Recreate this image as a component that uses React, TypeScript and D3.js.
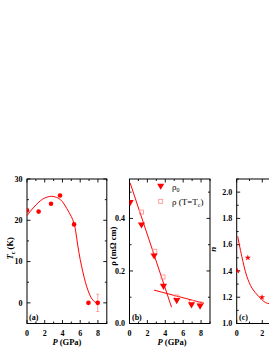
import React from "react";
import * as d3 from "d3";

// Panel (a): Tc vs P
const P_TC = [0, 1.31, 2.71, 3.73, 5.31, 6.93, 7.98];
const TC = [22.4, 22.1, 24.0, 26.0, 19.0, 0, 0];
const TC_ERR = [0, 0, 0, 0, 0, 0, 2.1];
const FIT_A_P = [0, 0.5, 1, 1.5, 2, 2.75, 3.5, 4, 4.5, 5, 5.3, 5.5, 5.72, 6.0, 6.3, 6.6, 6.9, 7.2, 7.5, 7.8, 8.0];
const FIT_A_TC = [21.1, 22.5, 23.7, 24.7, 25.4, 25.8, 25.4, 24.5, 22.8, 20.9, 19.3, 17.2, 14.0, 10.5, 7.5, 4.9, 2.9, 1.4, 0.5, 0.05, 0.1];

// Panel (b): rho vs P
const P_RHO0 = [0.07, 1.34, 2.75, 3.8, 5.28, 6.93, 7.89];
const RHO0 = [0.462, 0.377, 0.259, 0.143, 0.089, 0.073, 0.068];
const P_RHOTC = [1.34, 2.83, 3.75, 5.28, 6.93, 7.89];
const RHOTC = [0.424, 0.275, 0.177, 0.101, 0.08, 0.075];
const LINE1_P = [0.07, 4.7];
const LINE1_RHO = [0.535, 0.062];
const LINE2_P = [2.75, 8.34];
const LINE2_RHO = [0.127, 0.077];

// Panel (c): n vs P
const P_N = [0.05, 0.87, 1.98];
const N_VAL = [1.40, 1.50, 1.20];
const FIT_C_P = [0.08, 0.4, 0.79, 1.19, 1.71, 2.24, 2.58, 3.2, 4.0, 5.0];
const FIT_C_N = [1.663, 1.51, 1.36, 1.27, 1.207, 1.16, 1.15, 1.14, 1.14, 1.14];

const X_LABELS = ["0", "2", "4", "6", "8"];

const FONT = "'Liberation Serif', serif";
const RED = "#ff0000";
const PINK = "#ff8a8a";
const TOP = 179;
const BOTTOM = 323.5;
const VIEW_W = 269;

type AxisSpec = {
  left: number;
  right: number;
  xDomain: [number, number];
  yDomain: [number, number];
  yMajor: number;
  yMinor: number;
  yFmt: (v: number) => string;
};

function Frame({ s, x, y }: { s: AxisSpec; x: d3.ScaleLinear<number, number>; y: d3.ScaleLinear<number, number> }) {
  const xMinor = d3.range(Math.ceil(s.xDomain[0]), s.xDomain[1] + 1e-9, 1);
  const yTicks = d3.range(Math.ceil(s.yDomain[0] / s.yMinor - 1e-9) * s.yMinor, s.yDomain[1] + 1e-9, s.yMinor);
  const isMajorY = (v: number) => Math.abs(v / s.yMajor - Math.round(v / s.yMajor)) < 1e-6;
  const maj = 3.5;
  const min = 2;
  return (
    <g>
      <rect x={s.left} y={TOP} width={s.right - s.left} height={BOTTOM - TOP} fill="none" stroke="#000" strokeWidth={1} />
      {xMinor.map((v) => {
        const len = v % 2 === 0 ? maj : min;
        return (
          <g key={"x" + v}>
            <line x1={x(v)} x2={x(v)} y1={BOTTOM} y2={BOTTOM - len} stroke="#000" strokeWidth={0.9} />
            <line x1={x(v)} x2={x(v)} y1={TOP} y2={TOP + len} stroke="#000" strokeWidth={0.9} />
          </g>
        );
      })}
      {X_LABELS.filter((t) => x(+t) + 3 < VIEW_W).map((t) => (
        <text key={"xl" + t} x={x(+t)} y={336} textAnchor="middle" fontFamily={FONT} fontWeight="bold" fontSize={8}>
          {t}
        </text>
      ))}
      {yTicks.map((v) => {
        const len = isMajorY(v) ? maj : min;
        return (
          <g key={"y" + v.toFixed(3)}>
            <line x1={s.left} x2={s.left + len} y1={y(v)} y2={y(v)} stroke="#000" strokeWidth={0.9} />
            <line x1={s.right} x2={s.right - len} y1={y(v)} y2={y(v)} stroke="#000" strokeWidth={0.9} />
            {isMajorY(v) ? (
              <text x={s.left - 4.5} y={y(v) + 2.8} textAnchor="end" fontFamily={FONT} fontWeight="bold" fontSize={8}>
                {s.yFmt(v)}
              </text>
            ) : null}
          </g>
        );
      })}
    </g>
  );
}

const tri = d3.symbol().type(d3.symbolTriangle).size(22)() as string;
const star = d3.symbol().type(d3.symbolStar).size(12)() as string;

export default function App() {
  const A: AxisSpec = { left: 27, right: 106.8, xDomain: [0, 9], yDomain: [-5, 30], yMajor: 10, yMinor: 5, yFmt: (v) => String(Math.round(v)) };
  const B: AxisSpec = { left: 129.5, right: 210, xDomain: [0, 9], yDomain: [0, 0.55], yMajor: 0.2, yMinor: 0.1, yFmt: (v) => v.toFixed(1) };
  const C: AxisSpec = { left: 236.7, right: 317.3, xDomain: [0, 6.3], yDomain: [1.0, 2.1], yMajor: 0.2, yMinor: 0.1, yFmt: (v) => v.toFixed(1) };

  const xa = d3.scaleLinear().domain(A.xDomain).range([A.left, A.right]);
  const ya = d3.scaleLinear().domain(A.yDomain).range([BOTTOM, TOP]);
  const xb = d3.scaleLinear().domain(B.xDomain).range([B.left, B.right]);
  const yb = d3.scaleLinear().domain(B.yDomain).range([BOTTOM, TOP]);
  const xc = d3.scaleLinear().domain(C.xDomain).range([C.left, C.right]);
  const yc = d3.scaleLinear().domain(C.yDomain).range([BOTTOM, TOP]);

  const lineA = d3
    .line<number>()
    .x((_, i) => xa(FIT_A_P[i]))
    .y((d) => ya(d))
    .curve(d3.curveCatmullRom);
  const lineC = d3
    .line<number>()
    .x((_, i) => xc(FIT_C_P[i]))
    .y((d) => yc(d))
    .curve(d3.curveCatmullRom);
  const l1 = d3.line<number>().x((_, i) => xb(LINE1_P[i])).y((d) => yb(d));
  const l2 = d3.line<number>().x((_, i) => xb(LINE2_P[i])).y((d) => yb(d));

  return (
    <svg width={269} height={349} style={{ position: "absolute", left: 0, top: 0, background: "#fff" }}>
      <defs>
        <clipPath id="clipA">
          <rect x={A.left} y={TOP} width={A.right - A.left} height={BOTTOM - TOP} />
        </clipPath>
        <clipPath id="clipB">
          <rect x={B.left} y={TOP} width={B.right - B.left} height={BOTTOM - TOP} />
        </clipPath>
        <clipPath id="clipC">
          <rect x={C.left} y={TOP} width={C.right - C.left} height={BOTTOM - TOP} />
        </clipPath>
      </defs>

      {/* Panel (a) */}
      <Frame s={A} x={xa} y={ya} />
      <g clipPath="url(#clipA)">
        <path d={lineA(FIT_A_TC) || ""} fill="none" stroke={RED} strokeWidth={1} />
        {P_TC.map((p, i) => (
          <g key={"a" + i}>
            {TC_ERR[i] > 0 ? (
              <g stroke={PINK} strokeWidth={0.8}>
                <line x1={xa(p)} x2={xa(p)} y1={ya(TC[i] - TC_ERR[i])} y2={ya(TC[i] + TC_ERR[i])} />
                <line x1={xa(p) - 1.5} x2={xa(p) + 1.5} y1={ya(TC[i] - TC_ERR[i])} y2={ya(TC[i] - TC_ERR[i])} />
                <line x1={xa(p) - 1.5} x2={xa(p) + 1.5} y1={ya(TC[i] + TC_ERR[i])} y2={ya(TC[i] + TC_ERR[i])} />
              </g>
            ) : null}
            <circle cx={xa(p)} cy={ya(TC[i])} r={2.3} fill={RED} />
          </g>
        ))}
      </g>
      <text x={29} y={320} fontFamily={FONT} fontWeight="bold" fontSize={8}>(a)</text>
      <text transform={`translate(12.5,${(TOP + BOTTOM) / 2 - 3}) rotate(-90)`} textAnchor="middle" fontFamily={FONT} fontWeight="bold" fontSize={8.5}>
        <tspan fontStyle="italic">T</tspan>
        <tspan fontSize={6} dy={2}>c</tspan>
        <tspan dy={-2}> (K)</tspan>
      </text>
      <text x={(A.left + A.right) / 2} y={345} textAnchor="middle" fontFamily={FONT} fontWeight="bold" fontSize={8.5}>
        <tspan fontStyle="italic">P</tspan> (GPa)
      </text>

      {/* Panel (b) */}
      <Frame s={B} x={xb} y={yb} />
      <g clipPath="url(#clipB)">
        <path d={l1(LINE1_RHO) || ""} fill="none" stroke={RED} strokeWidth={1} />
        <path d={l2(LINE2_RHO) || ""} fill="none" stroke={RED} strokeWidth={1} />
        {P_RHOTC.map((p, i) => (
          <rect key={"s" + i} x={xb(p) - 2} y={yb(RHOTC[i]) - 2} width={4} height={4} fill="none" stroke={PINK} strokeWidth={0.8} />
        ))}
        {P_RHO0.map((p, i) => (
          <path key={"t" + i} d={tri} transform={`translate(${xb(p)},${yb(RHO0[i])}) rotate(180)`} fill={RED} />
        ))}
      </g>
      <path d={tri} transform="translate(160.7,185.7) rotate(180)" fill={RED} />
      <text x={172} y={189.5} fontFamily={FONT} fontSize={9}>
        ρ<tspan fontSize={6} dy={2}>0</tspan>
      </text>
      <rect x={158.7} y={199.3} width={4} height={4} fill="none" stroke={PINK} strokeWidth={0.8} />
      <text x={172} y={204.5} fontFamily={FONT} fontSize={9}>
        ρ (T=T<tspan fontSize={6} dy={2}>c</tspan>
        <tspan dy={-2}>)</tspan>
      </text>
      <text x={132} y={320} fontFamily={FONT} fontWeight="bold" fontSize={8}>(b)</text>
      <text transform={`translate(116,${(TOP + BOTTOM) / 2 - 5}) rotate(-90)`} textAnchor="middle" fontFamily={FONT} fontWeight="bold" fontSize={8.5}>
        ρ (mΩ cm)
      </text>
      <text x={172} y={345} textAnchor="middle" fontFamily={FONT} fontWeight="bold" fontSize={8.5}>
        <tspan fontStyle="italic">P</tspan> (GPa)
      </text>

      {/* Panel (c) */}
      <Frame s={C} x={xc} y={yc} />
      <g clipPath="url(#clipC)">
        <path d={lineC(FIT_C_N) || ""} fill="none" stroke={RED} strokeWidth={1} />
        {P_N.map((p, i) => (
          <path key={"n" + i} d={star} transform={`translate(${xc(p)},${yc(N_VAL[i])})`} fill={RED} />
        ))}
      </g>
      <text x={239} y={320} fontFamily={FONT} fontWeight="bold" fontSize={8}>(c)</text>
      <text transform={`translate(215.5,${(TOP + BOTTOM) / 2 - 2}) rotate(-90)`} textAnchor="middle" fontFamily={FONT} fontWeight="bold" fontSize={9} fontStyle="italic">
        n
      </text>
    </svg>
  );
}
